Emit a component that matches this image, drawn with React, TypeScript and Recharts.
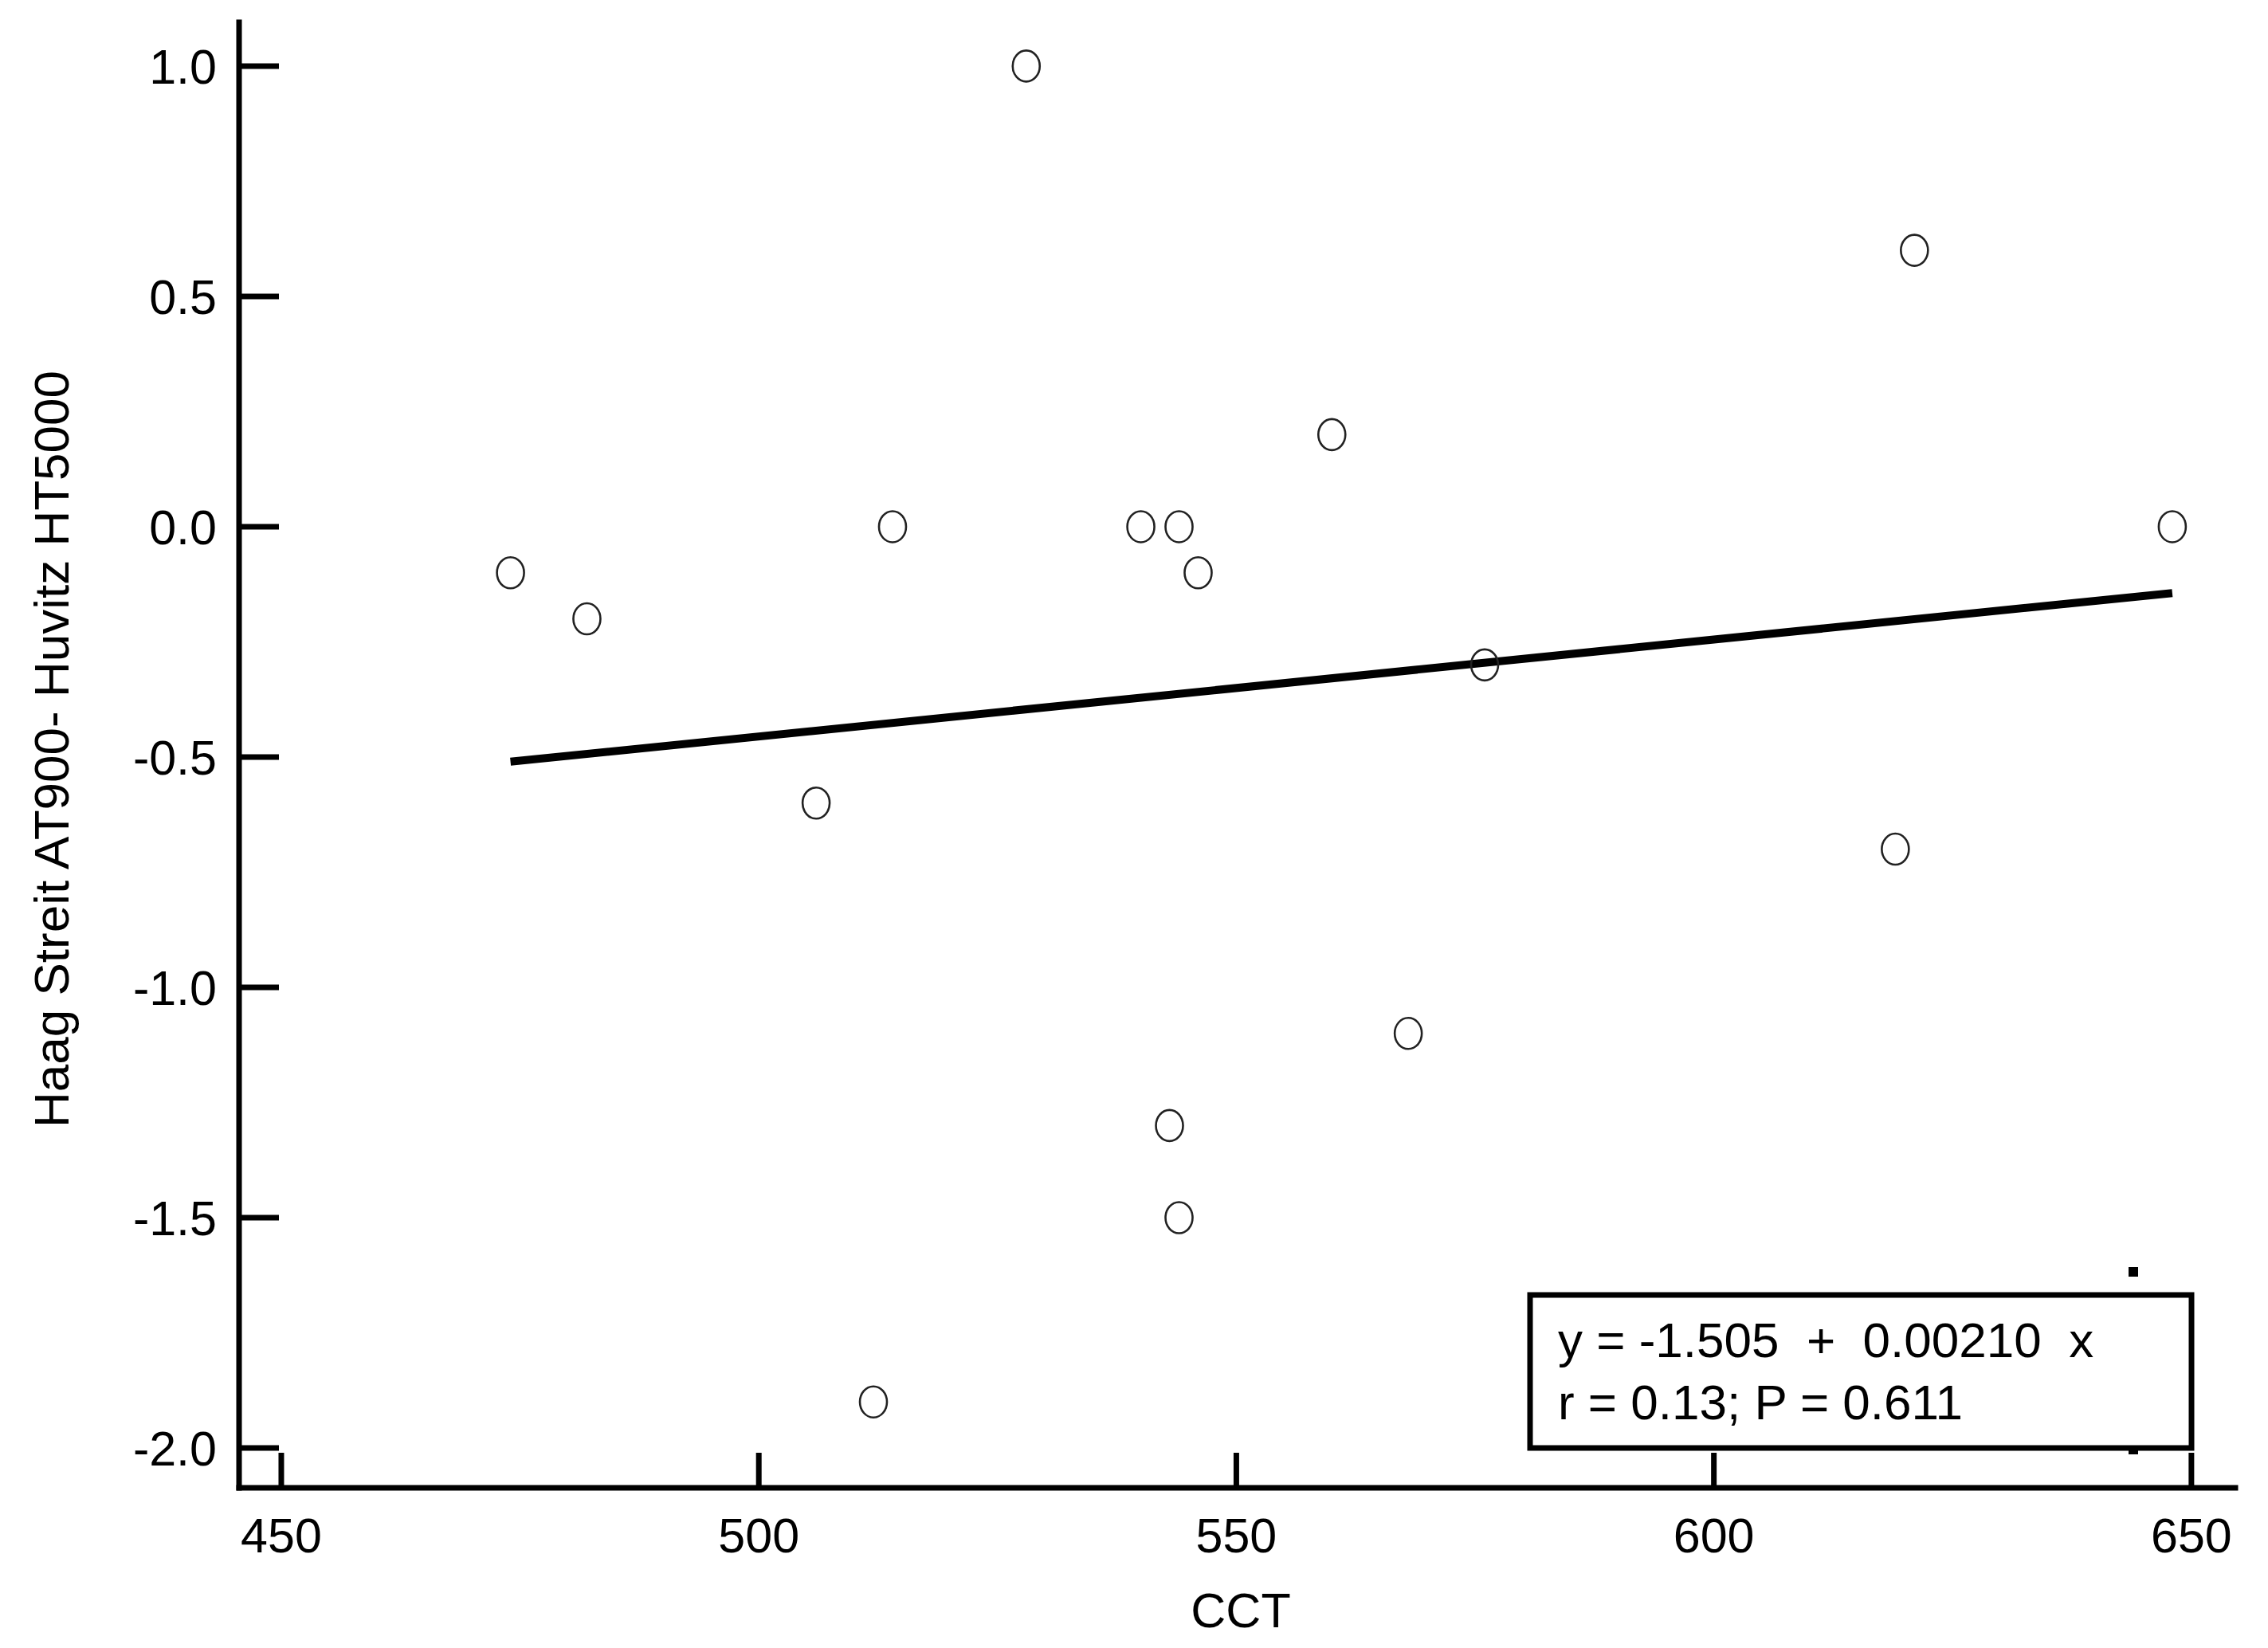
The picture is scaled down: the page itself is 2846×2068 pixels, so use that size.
import { ScatterChart, Scatter, XAxis, YAxis, ReferenceLine, Customized } from "recharts";

const cctValues = [474, 482, 506, 514, 512, 528, 540, 544, 546, 543, 544, 560, 568, 576, 621, 619, 648];
const diffValues = [-0.1, -0.2, -0.6, 0, -1.9, 1.0, 0, 0, -0.1, -1.3, -1.5, 0.2, -1.1, -0.3, 0.6, -0.7, 0];
const xTicks = [450, 500, 550, 600, 650];
const yTicks = [-2, -1.5, -1, -0.5, 0, 0.5, 1];
const fitStart = { x: 474, y: -0.51 };
const fitEnd = { x: 648, y: -0.144 };
const legendLines = ["y = -1.505  +  0.00210  x", "r = 0.13; P = 0.611"];

const FONT = "'Liberation Sans', Arial, sans-serif";

function YTick({ x, y, payload }: any) {
  return (
    <g>
      <line x1={x} x2={x + 50} y1={y} y2={y} stroke="#000" strokeWidth={7} />
      <text x={x - 28} y={y + 22} textAnchor="end" fontSize={61} fontFamily={FONT} fill="#000">
        {Number(payload.value).toFixed(1)}
      </text>
    </g>
  );
}

function XTick({ x, y, payload }: any) {
  return (
    <g>
      <line x1={x} x2={x} y1={y} y2={y - 44} stroke="#000" strokeWidth={7} />
      <text x={x} y={y + 81} textAnchor="middle" fontSize={61} fontFamily={FONT} fill="#000">
        {payload.value}
      </text>
    </g>
  );
}

function Dot({ cx, cy }: any) {
  return <ellipse cx={cx} cy={cy} rx={17} ry={19.5} fill="none" stroke="#222" strokeWidth={2.6} />;
}

function StatsBox() {
  return (
    <g fontFamily={FONT}>
      <rect x={2671} y={1590} width={12} height={12} fill="#000" />
      <rect x={2671} y={1812} width={12} height={13} fill="#000" />
      <rect x={1920} y={1625} width={830} height={192} fill="#fff" stroke="#000" strokeWidth={7} />
      {legendLines.map((t, i) => (
        <text key={i} x={1955} y={1703 + i * 78} fontSize={62} fill="#000" style={{ whiteSpace: "pre" }}>
          {t}
        </text>
      ))}
    </g>
  );
}

export default function App() {
  const points = cctValues.map((x, i) => ({ x, y: diffValues[i] }));
  return (
    <div style={{ position: "absolute", left: 0, top: 0, width: 2846, height: 2068, background: "#fff" }}>
      <ScatterChart width={2846} height={2068} margin={{ top: 28, right: 41, bottom: 101, left: 200 }}>
        <XAxis
          type="number"
          dataKey="x"
          domain={[445.58, 654.6]}
          ticks={xTicks}
          allowDataOverflow
          height={100}
          tickSize={0}
          tickMargin={0}
          tickLine={false}
          axisLine={{ stroke: "#000", strokeWidth: 7, strokeLinecap: "square" }}
          tick={<XTick />}
          interval={0}
        />
        <YAxis
          type="number"
          dataKey="y"
          domain={[-2.0865, 1.095]}
          ticks={yTicks}
          allowDataOverflow
          width={100}
          tickSize={0}
          tickMargin={0}
          tickLine={false}
          axisLine={{ stroke: "#000", strokeWidth: 7, strokeLinecap: "square" }}
          tick={<YTick />}
          interval={0}
        />
        <ReferenceLine
          segment={[fitStart, fitEnd]}
          stroke="#000"
          strokeWidth={10}
          ifOverflow="visible"
        />
        <Scatter data={points} shape={<Dot />} isAnimationActive={false} />
        <Customized component={StatsBox} />
        <text
          x={86}
          y={940}
          transform="rotate(-90 86 940)"
          textAnchor="middle"
          fontSize={62}
          fontFamily={FONT}
          fill="#000"
        >
          Haag Streit AT900- Huvitz HT5000
        </text>
        <text x={1557} y={2042} textAnchor="middle" fontSize={61} fontFamily={FONT} fill="#000">
          CCT
        </text>
      </ScatterChart>
    </div>
  );
}
